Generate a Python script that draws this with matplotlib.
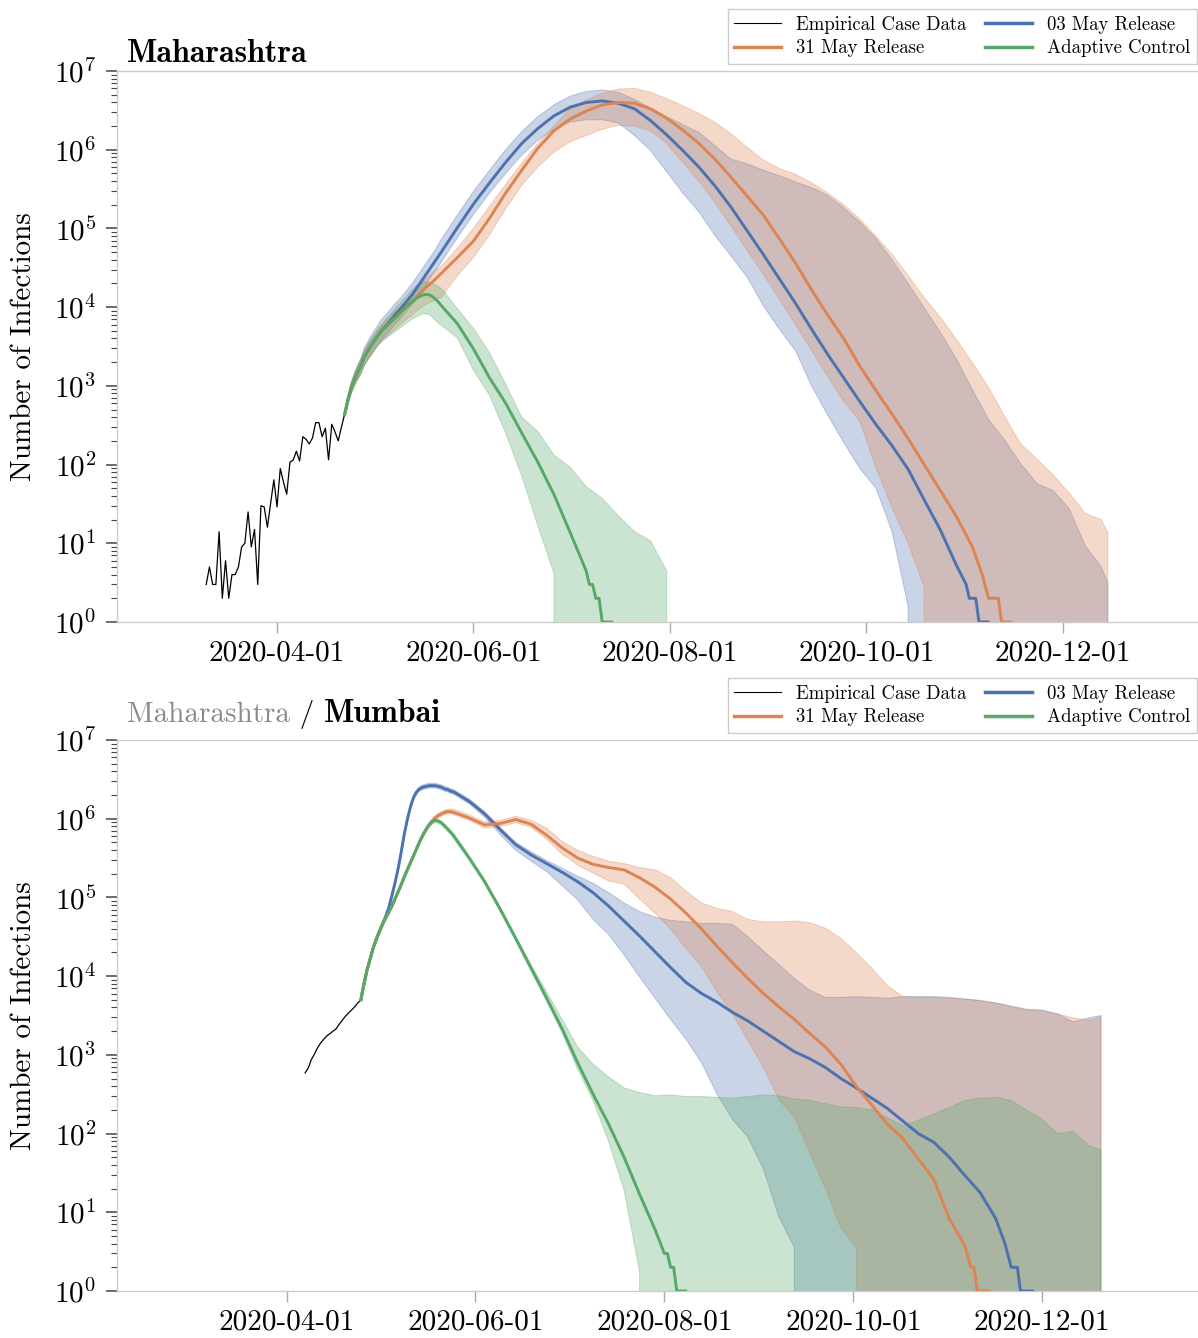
import numpy as np
import pandas as pd
import matplotlib
matplotlib.use("Agg")
import matplotlib.pyplot as plt
import matplotlib.dates as mdates
from matplotlib.lines import Line2D
from matplotlib.ticker import LogLocator, NullFormatter

plt.rcParams["font.family"] = "cmr10"
plt.rcParams["mathtext.fontset"] = "cm"
plt.rcParams["axes.unicode_minus"] = False
plt.rcParams["axes.formatter.use_mathtext"] = True

BLUE = "#4C72B0"
ORANGE = "#DD8452"
GREEN = "#55A868"

# ---------------- Maharashtra (top) ----------------
mh_emp_dates = pd.date_range("2020-03-10", "2020-04-22")
mh_emp = [3, 5, 3, 3, 14, 2, 6, 2, 4, 4, 5, 9, 10, 25, 9, 15, 3, 30, 29, 16,
          32, 64, 29, 89, 60, 42, 107, 114, 148, 111, 226, 210, 183, 218,
          341, 341, 226, 290, 115, 325, 260, 200, 300, 440]

# daily for the first 30 days, then every 5 days
mh_grid = pd.date_range("2020-04-22", "2020-05-21", freq="D").append(
    pd.date_range("2020-05-22", "2020-12-13", freq="5D"))
mh_band_dates = mh_grid.append(pd.DatetimeIndex(["2020-12-15", "2020-12-16"]))

# values in decades (log10 of number of infections)
mh_blue_med = [2.64, 2.82, 2.97, 3.08, 3.17, 3.25, 3.36, 3.43, 3.50, 3.56,
               3.62, 3.68, 3.73, 3.77, 3.82, 3.87, 3.92, 3.96, 4.01, 4.06,
               4.11, 4.16, 4.22, 4.28, 4.34, 4.40, 4.46, 4.52, 4.58, 4.64,
               4.70, 5.01, 5.31, 5.58, 5.84, 6.08, 6.27, 6.43, 6.54, 6.60,
               6.62, 6.59, 6.52, 6.37, 6.19, 5.99, 5.78, 5.54, 5.27, 4.97,
               4.67, 4.36, 4.05, 3.72, 3.40, 3.10, 2.80, 2.51, 2.24, 1.94,
               1.55, 1.17, 0.72]
mh_blue_tail_d = ["2020-11-01", "2020-11-02", "2020-11-04", "2020-11-05",
                  "2020-11-08", "2020-11-09"]
mh_blue_tail = [3, 2, 2, 1, 1, 0]
mh_blue_hi = [2.64, 2.87, 3.04, 3.16, 3.26, 3.35, 3.47, 3.55, 3.62, 3.69,
              3.75, 3.82, 3.87, 3.91, 3.96, 4.01, 4.06, 4.10, 4.15, 4.20,
              4.25, 4.30, 4.36, 4.42, 4.48, 4.54, 4.60, 4.66, 4.72, 4.79,
              4.86, 5.17, 5.47, 5.74, 6.00, 6.23, 6.42, 6.57, 6.68, 6.74,
              6.76, 6.73, 6.64, 6.53, 6.42, 6.32, 6.22, 6.05, 5.88, 5.82,
              5.74, 5.67, 5.59, 5.52, 5.42, 5.26, 5.08, 4.87, 4.60, 4.30,
              3.99, 3.68, 3.34, 2.95, 2.57, 2.31, 2.01, 1.76, 1.67, 1.44,
              0.97, 0.70, 0.50]
mh_blue_lo = [2.64, 2.77, 2.90, 3.00, 3.08, 3.15, 3.25, 3.32, 3.38, 3.44,
              3.50, 3.56, 3.61, 3.65, 3.70, 3.75, 3.80, 3.84, 3.89, 3.94,
              3.99, 4.03, 4.09, 4.15, 4.21, 4.27, 4.33, 4.39, 4.45, 4.51,
              4.57, 4.88, 5.18, 5.45, 5.70, 5.93, 6.12, 6.26, 6.35, 6.38,
              6.38, 6.34, 6.18, 5.99, 5.72, 5.45, 5.21, 4.91, 4.65, 4.38,
              4.02, 3.72, 3.45, 3.00, 2.63, 2.28, 1.95, 1.70, 1.15, 0.20]

mh_orange_med = [2.64, 2.82, 2.97, 3.08, 3.17, 3.25, 3.36, 3.43, 3.50, 3.56,
                 3.62, 3.67, 3.72, 3.76, 3.80, 3.84, 3.88, 3.92, 3.96, 4.00,
                 4.04, 4.08, 4.12, 4.16, 4.20, 4.24, 4.28, 4.31, 4.35, 4.39,
                 4.43, 4.63, 4.84, 5.13, 5.45, 5.74, 6.02, 6.24, 6.39, 6.49,
                 6.57, 6.60, 6.59, 6.52, 6.40, 6.25, 6.08, 5.88, 5.65, 5.41,
                 5.17, 4.87, 4.56, 4.22, 3.90, 3.60, 3.25, 2.94, 2.64, 2.33,
                 2.00, 1.67, 1.34, 0.95]
mh_orange_tail_d = ["2020-11-06", "2020-11-08", "2020-11-11", "2020-11-12",
                    "2020-11-15", "2020-11-16"]
mh_orange_tail = [4, 2, 2, 1, 1, 0]
mh_orange_hi = [2.64, 2.86, 3.03, 3.15, 3.25, 3.33, 3.44, 3.51, 3.58, 3.64,
                3.70, 3.75, 3.80, 3.84, 3.88, 3.92, 3.96, 4.00, 4.04, 4.08,
                4.12, 4.16, 4.21, 4.26, 4.31, 4.35, 4.39, 4.42, 4.46, 4.49,
                4.52, 4.75, 5.00, 5.28, 5.56, 5.83, 6.08, 6.30, 6.52, 6.63,
                6.72, 6.77, 6.78, 6.73, 6.65, 6.56, 6.46, 6.35, 6.20, 6.03,
                5.87, 5.76, 5.69, 5.58, 5.45, 5.30, 5.12, 4.90, 4.67, 4.40,
                4.12, 3.87, 3.59, 3.29, 2.98, 2.61, 2.26, 2.07, 1.87, 1.64,
                1.38, 1.30, 1.13]
mh_orange_lo = [2.64, 2.77, 2.90, 3.00, 3.08, 3.15, 3.25, 3.32, 3.38, 3.44,
                3.50, 3.54, 3.59, 3.62, 3.66, 3.70, 3.73, 3.77, 3.80, 3.84,
                3.87, 3.90, 3.94, 3.97, 4.00, 4.03, 4.05, 4.07, 4.09, 4.11,
                4.12, 4.40, 4.63, 4.92, 5.25, 5.55, 5.78, 5.97, 6.10, 6.18,
                6.26, 6.31, 6.30, 6.24, 6.08, 5.84, 5.60, 5.33, 5.03, 4.72,
                4.42, 4.10, 3.78, 3.45, 3.12, 2.80, 2.55, 1.96, 1.45, 1.00,
                0.44]

mh_green_med = [2.64, 2.82, 2.97, 3.08, 3.17, 3.25, 3.36, 3.43, 3.50, 3.56,
                3.62, 3.67, 3.72, 3.76, 3.80, 3.84, 3.88, 3.92, 3.96, 4.00,
                4.04, 4.07, 4.10, 4.13, 4.15, 4.16, 4.16, 4.14, 4.11, 4.07,
                4.02, 3.79, 3.47, 3.10, 2.78, 2.40, 2.03, 1.62, 1.14, 0.65]
mh_green_tail_d = ["2020-07-07", "2020-07-08", "2020-07-09", "2020-07-10",
                   "2020-07-11", "2020-07-14", "2020-07-15"]
mh_green_tail = [3, 3, 2, 2, 1, 1, 0]
mh_green_hi = [2.64, 2.86, 3.03, 3.15, 3.25, 3.33, 3.44, 3.51, 3.58, 3.64,
               3.70, 3.75, 3.80, 3.85, 3.90, 3.95, 4.00, 4.04, 4.09, 4.13,
               4.18, 4.22, 4.26, 4.29, 4.31, 4.32, 4.32, 4.31, 4.29, 4.26,
               4.24, 3.98, 3.73, 3.42, 3.02, 2.60, 2.42, 2.12, 1.97, 1.72,
               1.57, 1.35, 1.15, 1.03, 0.65]
mh_green_lo = [2.64, 2.77, 2.90, 3.00, 3.08, 3.15, 3.25, 3.32, 3.38, 3.44,
               3.50, 3.54, 3.58, 3.61, 3.64, 3.67, 3.70, 3.73, 3.76, 3.79,
               3.82, 3.85, 3.87, 3.89, 3.91, 3.92, 3.91, 3.88, 3.84, 3.80,
               3.77, 3.61, 3.20, 2.88, 2.40, 1.86, 1.22, 0.62]

# ---------------- Mumbai (bottom) ----------------
mb_emp_dates = pd.date_range("2020-04-07", "2020-04-25")
mb_emp = [590, 680, 870, 1020, 1230, 1410, 1580, 1740, 1860, 2000, 2140,
          2450, 2750, 3090, 3390, 3720, 4070, 4570, 5010]

mb_grid = pd.date_range("2020-04-25", "2020-05-24", freq="D").append(
    pd.date_range("2020-05-25", "2020-12-16", freq="5D"))
mb_band_dates = mb_grid.append(pd.DatetimeIndex(["2020-12-20", "2020-12-21"]))

mb_blue_med = [3.70, 3.90, 4.08, 4.22, 4.36, 4.47, 4.57, 4.66, 4.76, 4.87,
               5.02, 5.18, 5.36, 5.57, 5.80, 5.99, 6.15, 6.27, 6.34, 6.38,
               6.40, 6.41, 6.42, 6.42, 6.42, 6.41, 6.40, 6.38, 6.37, 6.35,
               6.34, 6.22, 6.06, 5.86, 5.67, 5.54, 5.43, 5.32, 5.20, 5.06,
               4.89, 4.70, 4.51, 4.31, 4.11, 3.92, 3.78, 3.67, 3.54, 3.43,
               3.30, 3.17, 3.04, 2.95, 2.84, 2.70, 2.58, 2.45, 2.32, 2.16,
               2.00, 1.89, 1.70, 1.47, 1.25, 0.92]
mb_blue_tail_d = ["2020-11-19", "2020-11-21", "2020-11-23", "2020-11-24",
                  "2020-11-28", "2020-11-29"]
mb_blue_tail = [4, 2, 2, 1, 1, 0]
mb_blue_hi = [3.70, 3.92, 4.10, 4.24, 4.38, 4.49, 4.59, 4.68, 4.78, 4.89,
              5.05, 5.21, 5.39, 5.60, 5.83, 6.02, 6.18, 6.30, 6.37, 6.41,
              6.43, 6.44, 6.45, 6.45, 6.45, 6.44, 6.43, 6.41, 6.40, 6.38,
              6.37, 6.25, 6.09, 5.89, 5.70, 5.58, 5.47, 5.37, 5.27, 5.18,
              5.06, 4.93, 4.82, 4.75, 4.71, 4.69, 4.67, 4.67, 4.66, 4.50,
              4.32, 4.15, 3.97, 3.82, 3.73, 3.73, 3.74, 3.73, 3.72, 3.74,
              3.74, 3.74, 3.73, 3.71, 3.69, 3.66, 3.62, 3.58, 3.57, 3.52,
              3.42, 3.47, 3.50]
mb_blue_lo = [3.70, 3.88, 4.06, 4.20, 4.34, 4.44, 4.54, 4.63, 4.73, 4.84,
              4.99, 5.15, 5.33, 5.54, 5.77, 5.96, 6.12, 6.24, 6.31, 6.35,
              6.37, 6.38, 6.39, 6.39, 6.39, 6.38, 6.37, 6.35, 6.34, 6.32,
              6.31, 6.19, 6.02, 5.80, 5.60, 5.46, 5.33, 5.15, 4.97, 4.72,
              4.53, 4.27, 3.99, 3.72, 3.45, 3.20, 2.90, 2.50, 2.18, 1.95,
              1.55, 0.94, 0.55]

mb_orange_med = [3.70, 3.90, 4.08, 4.22, 4.36, 4.47, 4.57, 4.66, 4.74, 4.81,
                 4.89, 4.98, 5.07, 5.16, 5.26, 5.35, 5.44, 5.53, 5.62, 5.71,
                 5.79, 5.86, 5.92, 5.97, 6.01, 6.04, 6.06, 6.08, 6.09, 6.09,
                 6.08, 6.01, 5.92, 5.94, 5.99, 5.93, 5.79, 5.63, 5.50, 5.42,
                 5.38, 5.35, 5.25, 5.13, 4.98, 4.80, 4.60, 4.38, 4.17, 3.97,
                 3.78, 3.61, 3.45, 3.27, 3.10, 2.88, 2.60, 2.36, 2.12, 1.94,
                 1.68, 1.42, 0.92, 0.58]
mb_orange_tail_d = ["2020-11-08", "2020-11-09", "2020-11-10", "2020-11-14",
                    "2020-11-15"]
mb_orange_tail = [2, 2, 1, 1, 0]
mb_orange_hi = [3.70, 3.93, 4.11, 4.25, 4.39, 4.50, 4.60, 4.69, 4.77, 4.84,
                4.92, 5.01, 5.10, 5.19, 5.29, 5.38, 5.47, 5.56, 5.65, 5.74,
                5.82, 5.89, 5.95, 6.00, 6.04, 6.07, 6.09, 6.11, 6.12, 6.12,
                6.12, 6.05, 5.96, 5.98, 6.03, 5.98, 5.88, 5.71, 5.60, 5.52,
                5.46, 5.43, 5.38, 5.35, 5.25, 5.08, 4.93, 4.86, 4.82, 4.72,
                4.69, 4.69, 4.70, 4.68, 4.61, 4.48, 4.30, 4.10, 3.88, 3.74,
                3.73, 3.73, 3.72, 3.71, 3.69, 3.66, 3.61, 3.57, 3.56, 3.52,
                3.47, 3.44, 3.48]
mb_orange_lo = [3.70, 3.87, 4.05, 4.19, 4.33, 4.44, 4.54, 4.63, 4.71, 4.78,
                4.86, 4.95, 5.04, 5.13, 5.23, 5.32, 5.41, 5.50, 5.59, 5.68,
                5.76, 5.83, 5.89, 5.94, 5.98, 6.01, 6.03, 6.05, 6.06, 6.06,
                6.05, 5.98, 5.88, 5.90, 5.95, 5.89, 5.74, 5.55, 5.41, 5.31,
                5.21, 5.17, 4.98, 4.80, 4.60, 4.35, 4.12, 3.80, 3.52, 3.18,
                2.84, 2.43, 2.21, 1.75, 1.30, 0.80, 0.55]

mb_green_med = [3.70, 3.90, 4.08, 4.22, 4.36, 4.47, 4.57, 4.66, 4.74, 4.81,
                4.89, 4.98, 5.07, 5.16, 5.26, 5.35, 5.44, 5.53, 5.62, 5.71,
                5.79, 5.86, 5.92, 5.96, 5.98, 5.97, 5.95, 5.91, 5.87, 5.83,
                5.78, 5.50, 5.20, 4.85, 4.48, 4.10, 3.72, 3.33, 2.90, 2.50,
                2.12, 1.70, 1.23, 0.78]
mb_green_tail_d = ["2020-08-01", "2020-08-02", "2020-08-03", "2020-08-04",
                   "2020-08-05", "2020-08-08", "2020-08-09"]
mb_green_tail = [3, 3, 2, 2, 1, 1, 0]
mb_green_hi = [3.70, 3.92, 4.10, 4.24, 4.38, 4.49, 4.59, 4.68, 4.76, 4.83,
               4.91, 5.00, 5.09, 5.18, 5.28, 5.37, 5.46, 5.55, 5.64, 5.73,
               5.81, 5.88, 5.94, 5.98, 6.00, 5.99, 5.97, 5.93, 5.89, 5.85,
               5.81, 5.53, 5.22, 4.88, 4.51, 4.14, 3.80, 3.45, 3.10, 2.88,
               2.72, 2.58, 2.52, 2.48, 2.49, 2.47, 2.47, 2.46, 2.45, 2.47,
               2.49, 2.48, 2.44, 2.42, 2.38, 2.34, 2.33, 2.30, 2.20, 2.10,
               2.17, 2.25, 2.33, 2.42, 2.45, 2.46, 2.42, 2.30, 2.18, 2.00,
               2.03, 1.85, 1.79]
mb_green_lo = [3.70, 3.87, 4.05, 4.19, 4.33, 4.44, 4.54, 4.63, 4.71, 4.78,
               4.86, 4.95, 5.04, 5.13, 5.23, 5.32, 5.41, 5.50, 5.59, 5.68,
               5.76, 5.83, 5.89, 5.93, 5.95, 5.94, 5.92, 5.88, 5.84, 5.80,
               5.75, 5.47, 5.17, 4.82, 4.45, 4.06, 3.68, 3.28, 2.82, 2.42,
               1.90, 1.28, 0.25]


def band(logs, n):
    """decades -> counts, zero after the band dies out"""
    v = 10.0 ** np.asarray(logs, dtype=float)
    return np.concatenate([v, np.zeros(n - len(v))])


def median(grid, logs, tail_dates, tail_counts):
    d = grid[:len(logs)].append(pd.DatetimeIndex(tail_dates))
    v = np.concatenate([10.0 ** np.asarray(logs, dtype=float),
                        np.asarray(tail_counts, dtype=float)])
    return d, v


def style_axes(ax, xlim):
    ax.set_yscale("log")
    ax.set_ylim(1, 1e7)
    ax.set_xlim(pd.Timestamp(xlim[0]), pd.Timestamp(xlim[1]))
    ax.yaxis.set_major_locator(LogLocator(base=10, numticks=20))
    ax.yaxis.set_minor_locator(LogLocator(base=10, subs=np.arange(2, 10) * 1.0,
                                          numticks=100))
    ax.yaxis.set_minor_formatter(NullFormatter())
    ax.set_xticks([pd.Timestamp(d) for d in
                   ["2020-04-01", "2020-06-01", "2020-08-01", "2020-10-01",
                    "2020-12-01"]])
    ax.xaxis.set_major_formatter(mdates.DateFormatter("%Y-%m-%d"))
    ax.tick_params(axis="y", which="major", length=8, width=1.1,
                   color="#444444", labelsize=21, pad=7)
    ax.tick_params(axis="y", which="minor", length=4.5, width=0.8,
                   color="#444444")
    ax.tick_params(axis="x", which="major", length=8, width=1.0,
                   color="#aaaaaa", labelsize=21, pad=5)
    for s in ["left", "bottom", "top"]:
        ax.spines[s].set_color("#cccccc")
        ax.spines[s].set_linewidth(1.0)
    ax.spines["right"].set_visible(False)
    ax.set_ylabel("Number of Infections", fontsize=21, labelpad=12)

    handles = [Line2D([], [], color="k", lw=0.8),
               Line2D([], [], color=ORANGE, lw=2.5),
               Line2D([], [], color=BLUE, lw=2.5),
               Line2D([], [], color=GREEN, lw=2.5)]
    labels = ["Empirical Case Data", "31 May Release", "03 May Release",
              "Adaptive Control"]
    leg = ax.legend(handles, labels, ncol=2, loc="lower right",
                    bbox_to_anchor=(1.0, 1.013), borderaxespad=0,
                    fontsize=13.5, frameon=True, fancybox=False,
                    edgecolor="#cccccc", framealpha=1, handlelength=2.5,
                    columnspacing=1.0, handletextpad=0.8, labelspacing=0.3,
                    borderpad=0.35)
    leg.get_frame().set_linewidth(1.0)


def draw(ax, emp_d, emp, bdates, grid, series):
    n = len(bdates)
    for lo, hi, color in series["bands"]:
        ax.fill_between(bdates, band(lo, n), band(hi, n), color=color,
                        alpha=0.3, lw=0.8)
    ax.plot(emp_d, emp, color="k", lw=0.9, zorder=4)
    for logs, td, tc, color in series["meds"]:
        d, v = median(grid, logs, td, tc)
        ax.plot(d, v, color=color, lw=2.1, zorder=5)


fig = plt.figure(figsize=(11.98, 13.38), dpi=100)
ax1 = fig.add_axes([117 / 1198, 1 - 622 / 1338, 1080 / 1198, 551 / 1338])
ax2 = fig.add_axes([117 / 1198, 1 - 1291 / 1338, 1080 / 1198, 551 / 1338])

draw(ax1, mh_emp_dates, mh_emp, mh_band_dates, mh_grid, {
    "bands": [(mh_blue_lo, mh_blue_hi, BLUE),
              (mh_orange_lo, mh_orange_hi, ORANGE),
              (mh_green_lo, mh_green_hi, GREEN)],
    "meds": [(mh_blue_med, mh_blue_tail_d, mh_blue_tail, BLUE),
             (mh_orange_med, mh_orange_tail_d, mh_orange_tail, ORANGE),
             (mh_green_med, mh_green_tail_d, mh_green_tail, GREEN)]})
style_axes(ax1, ("2020-02-11 07:00", "2021-01-11 17:00"))

draw(ax2, mb_emp_dates, mb_emp, mb_band_dates, mb_grid, {
    "bands": [(mb_blue_lo, mb_blue_hi, BLUE),
              (mb_orange_lo, mb_orange_hi, ORANGE),
              (mb_green_lo, mb_green_hi, GREEN)],
    "meds": [(mb_blue_med, mb_blue_tail_d, mb_blue_tail, BLUE),
             (mb_orange_med, mb_orange_tail_d, mb_orange_tail, ORANGE),
             (mb_green_med, mb_green_tail_d, mb_green_tail, GREEN)]})
style_axes(ax2, ("2020-02-06 06:00", "2021-01-20 00:00"))

# titles
ax1.text(0.009, 1.017, "Maharashtra", transform=ax1.transAxes, fontsize=23,
         fontfamily="cmb10", va="baseline", ha="left")

t1 = ax2.text(0.009, 1.032, "Maharashtra", transform=ax2.transAxes,
              fontsize=21, color="#8a8a8a", va="baseline", ha="left")
fig.canvas.draw()
rend = fig.canvas.get_renderer()
x1 = ax2.transAxes.inverted().transform((t1.get_window_extent(rend).x1, 0))[0]
t2 = ax2.text(x1, 1.032, " / ", transform=ax2.transAxes, fontsize=21,
              va="baseline", ha="left")
x2 = ax2.transAxes.inverted().transform((t2.get_window_extent(rend).x1, 0))[0]
ax2.text(x2, 1.032, "Mumbai", transform=ax2.transAxes, fontsize=23,
         fontfamily="cmb10", va="baseline", ha="left")

fig.savefig("out.png", dpi=100)
